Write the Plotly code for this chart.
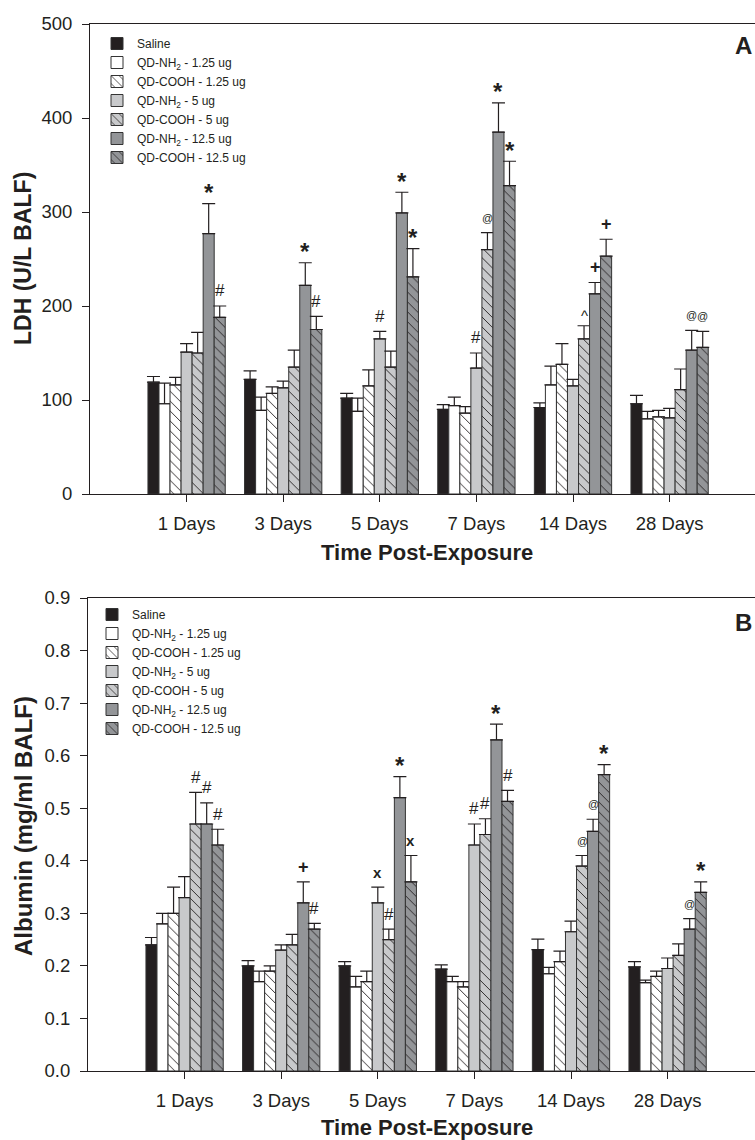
import plotly.graph_objects as go

# ---------------- data ----------------
days = ["1 Days", "3 Days", "5 Days", "7 Days", "14 Days", "28 Days"]
series_names = [
    "Saline",
    "QD-NH<sub>2</sub> - 1.25 ug",
    "QD-COOH - 1.25 ug",
    "QD-NH<sub>2</sub> - 5 ug",
    "QD-COOH - 5 ug",
    "QD-NH<sub>2</sub> - 12.5 ug",
    "QD-COOH - 12.5 ug",
]

# LDH (U/L BALF)
ldh_saline = [119, 122, 102, 90, 92, 96]
ldh_nh2_125 = [96, 89, 88, 94, 116, 80]
ldh_cooh_125 = [116, 107, 115, 86, 138, 82]
ldh_nh2_5 = [151, 113, 165, 134, 115, 81]
ldh_cooh_5 = [150, 135, 135, 260, 165, 111]
ldh_nh2_12 = [277, 222, 299, 385, 213, 153]
ldh_cooh_12 = [188, 175, 231, 328, 253, 156]

ldh_saline_err = [6, 9, 5, 5, 5, 9]
ldh_nh2_125_err = [22, 14, 14, 9, 20, 8]
ldh_cooh_125_err = [8, 7, 17, 7, 22, 7]
ldh_nh2_5_err = [9, 7, 8, 16, 7, 10]
ldh_cooh_5_err = [22, 18, 17, 18, 14, 22]
ldh_nh2_12_err = [32, 24, 22, 31, 12, 21]
ldh_cooh_12_err = [12, 14, 30, 26, 18, 17]

# Albumin (mg/ml BALF)
alb_saline = [0.24, 0.20, 0.20, 0.194, 0.231, 0.198]
alb_nh2_125 = [0.28, 0.17, 0.16, 0.17, 0.185, 0.168]
alb_cooh_125 = [0.30, 0.19, 0.17, 0.16, 0.208, 0.18]
alb_nh2_5 = [0.33, 0.23, 0.32, 0.43, 0.265, 0.195]
alb_cooh_5 = [0.47, 0.24, 0.25, 0.45, 0.39, 0.22]
alb_nh2_12 = [0.47, 0.32, 0.52, 0.63, 0.456, 0.27]
alb_cooh_12 = [0.43, 0.27, 0.36, 0.513, 0.564, 0.34]

alb_saline_err = [0.014, 0.01, 0.008, 0.008, 0.02, 0.01]
alb_nh2_125_err = [0.02, 0.02, 0.02, 0.01, 0.012, 0.005]
alb_cooh_125_err = [0.05, 0.01, 0.02, 0.01, 0.02, 0.01]
alb_nh2_5_err = [0.04, 0.01, 0.03, 0.04, 0.02, 0.02]
alb_cooh_5_err = [0.06, 0.02, 0.02, 0.03, 0.02, 0.022]
alb_nh2_12_err = [0.04, 0.04, 0.04, 0.03, 0.023, 0.02]
alb_cooh_12_err = [0.03, 0.011, 0.05, 0.021, 0.019, 0.02]

# significance marks: (day index, series index, symbol)
ldh_marks = [(0, 5, "*"), (0, 6, "#"), (1, 5, "*"), (1, 6, "#"), (2, 3, "#"),
             (2, 5, "*"), (2, 6, "*"), (3, 3, "#"), (3, 4, "@"), (3, 5, "*"),
             (3, 6, "*"), (4, 4, "^"), (4, 5, "+"), (4, 6, "+"), (5, 5, "@"),
             (5, 6, "@")]
alb_marks = [(0, 4, "#"), (0, 5, "#"), (0, 6, "#"), (1, 5, "+"), (1, 6, "#"),
             (2, 3, "x"), (2, 4, "#"), (2, 5, "*"), (2, 6, "x"), (3, 3, "#"),
             (3, 4, "#"), (3, 5, "*"), (3, 6, "#"), (4, 4, "@"), (4, 5, "@"),
             (4, 6, "*"), (5, 5, "@"), (5, 6, "*")]

ldh_vals = [ldh_saline, ldh_nh2_125, ldh_cooh_125, ldh_nh2_5, ldh_cooh_5, ldh_nh2_12, ldh_cooh_12]
ldh_errs = [ldh_saline_err, ldh_nh2_125_err, ldh_cooh_125_err, ldh_nh2_5_err,
            ldh_cooh_5_err, ldh_nh2_12_err, ldh_cooh_12_err]
alb_vals = [alb_saline, alb_nh2_125, alb_cooh_125, alb_nh2_5, alb_cooh_5, alb_nh2_12, alb_cooh_12]
alb_errs = [alb_saline_err, alb_nh2_125_err, alb_cooh_125_err, alb_nh2_5_err,
            alb_cooh_5_err, alb_nh2_12_err, alb_cooh_12_err]

# ---------------- styles ----------------
W, H = 755, 1140
INK = "#231f20"
fills = [INK, "#ffffff", "#ffffff", "#c8c9cb", "#c8c9cb", "#939598", "#939598"]
hatched = [False, False, True, False, True, False, True]
FONT = "Liberation Sans, Arial, Helvetica, sans-serif"

xpos = [i + 1 for i in range(len(days))]
n_series = len(series_names)
bargap = 0.2
bw = (1 - bargap) / n_series

fig = go.Figure()


def add_panel(vals, errs, xa, ya, leg):
    for k in range(n_series):
        pat = dict(shape="\\" if hatched[k] else "", fgcolor=INK,
                   bgcolor=fills[k], size=7, solidity=0.13, fillmode="replace")
        fig.add_trace(go.Bar(
            x=xpos, y=vals[k], name=series_names[k],
            xaxis=xa, yaxis=ya, legend=leg,
            marker=dict(color=fills[k], line=dict(color="#333333", width=1),
                        pattern=pat),
            error_y=dict(type="data", array=errs[k], arrayminus=[0] * len(days),
                         symmetric=False, color=INK, thickness=1.2, width=6.5),
        ))


add_panel(ldh_vals, ldh_errs, "x", "y", "legend")
add_panel(alb_vals, alb_errs, "x2", "y2", "legend2")

sym_style = {
    "*": dict(size=24, shift=11, bold=True),
    "#": dict(size=17, shift=15, bold=False),
    "@": dict(size=11, shift=15, bold=False),
    "+": dict(size=18, shift=15, bold=True),
    "x": dict(size=15, shift=15, bold=True),
    "^": dict(size=15, shift=10, bold=False),
}


def add_marks(marks, vals, errs, xref, yref):
    for (g, s, sym) in marks:
        st = sym_style[sym]
        xc = xpos[g] - (1 - bargap) / 2 + bw * (s + 0.5)
        yc = vals[s][g] + errs[s][g]
        txt = "<b>%s</b>" % sym if st["bold"] else sym
        fig.add_annotation(x=xc, y=yc, xref=xref, yref=yref, text=txt,
                           showarrow=False, yanchor="middle", xanchor="center",
                           yshift=st["shift"],
                           font=dict(size=st["size"], color=INK, family=FONT))


add_marks(ldh_marks, ldh_vals, ldh_errs, "x", "y")
add_marks(alb_marks, alb_vals, alb_errs, "x2", "y2")


def px_x(p):
    return p / W


def px_y(p):
    return 1 - p / H


axis_common = dict(showgrid=False, zeroline=False, showline=True, linecolor=INK,
                   linewidth=1, ticks="outside", ticklen=7, tickcolor=INK,
                   tickwidth=1, automargin=False,
                   tickfont=dict(size=18.5, color=INK, family=FONT))

unit_px = 96.6
fig.update_layout(
    template="none",
    width=W, height=H,
    margin=dict(l=0, r=0, t=0, b=0, pad=0, autoexpand=False),
    paper_bgcolor="white", plot_bgcolor="white",
    font=dict(family=FONT, color=INK),
    barmode="group", bargap=bargap, bargroupgap=0,
    xaxis=dict(domain=[px_x(90), 1], range=[0, (W - 90) / unit_px],
               tickvals=xpos, ticktext=days, mirror=True, anchor="y",
               ticklabelstandoff=6, **axis_common),
    yaxis=dict(domain=[px_y(494), px_y(24)], range=[0, 500], dtick=100,
               anchor="x", ticklabelstandoff=6, **axis_common),
    xaxis2=dict(domain=[px_x(88), 1], range=[0, (W - 88) / unit_px],
                tickvals=xpos, ticktext=days, mirror=True, anchor="y2",
                ticklabelstandoff=6, **axis_common),
    yaxis2=dict(domain=[px_y(1071), px_y(598)], range=[0, 0.9], dtick=0.1,
                tickformat=".1f", anchor="x2", ticklabelstandoff=6, **axis_common),
    legend=dict(x=px_x(97), y=px_y(29), xanchor="left", yanchor="top",
                font=dict(size=12, color=INK, family=FONT),
                bgcolor="rgba(0,0,0,0)", borderwidth=0, tracegroupgap=0, itemwidth=30),
    legend2=dict(x=px_x(92), y=px_y(600), xanchor="left", yanchor="top",
                 font=dict(size=12, color=INK, family=FONT),
                 bgcolor="rgba(0,0,0,0)", borderwidth=0, tracegroupgap=0, itemwidth=30),
    showlegend=True,
)


def label(xp, yp, text, size, angle=0):
    fig.add_annotation(x=px_x(xp), y=px_y(yp), xref="paper", yref="paper",
                       text=text, showarrow=False, textangle=angle,
                       xanchor="center", yanchor="middle",
                       font=dict(size=size, color=INK, family=FONT))


# axis titles & panel letters
label(427, 552, "<b>Time Post-Exposure</b>", 22)
label(427, 1127, "<b>Time Post-Exposure</b>", 22)
label(23, 259, "<b>LDH (U/L BALF)</b>", 23, -90)
label(23, 826, "<b>Albumin (mg/ml BALF)</b>", 24, -90)
label(743, 45, "<b>A</b>", 24)
label(743, 622, "<b>B</b>", 24)

fig.write_html(
    "out.html",
    config={"displayModeBar": False, "responsive": False},
    post_script=(
        "var gd=document.getElementById('{plot_id}');"
        "gd.style.position='fixed';gd.style.top='0px';gd.style.left='0px';"
        "document.documentElement.style.margin='0';"
        "document.documentElement.style.overflow='hidden';"
        "document.body.style.margin='0';"
        "document.body.style.padding='0';"
        "document.body.style.overflow='hidden';"
    ),
)
